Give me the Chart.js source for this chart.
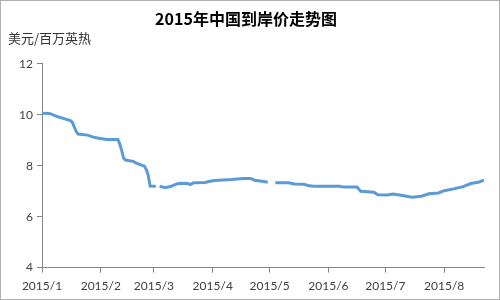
<!DOCTYPE html>
<html>
<head>
<meta charset="utf-8">
<script src="https://cdn.jsdelivr.net/npm/chart.js@4"></script>
<style>
  body { margin: 0; background: #fff; }
  #wrap { width: 500px; height: 300px; box-sizing: border-box; border: 1px solid #b0b0b0; }
</style>
</head>
<body>
<div id="wrap"><canvas id="canvas" width="498" height="298"></canvas></div>
<script>
// days counted from 2015/1/1, null = no quote that day (gap in the line)
let days = [0, 4, 8, 12, 15, 16, 18, 19, 24, 27, 30, 34, 40, 41, 42, 43, 44, 48, 50, 54, 55, 56, 57, 60,
            61, 62, 65, 68, 71, 73, 77, 78, 80, 86, 88, 91, 100, 106, 110, 112, 116, 119,
            121, 123, 130, 133, 138, 141, 143, 157, 159, 166, 168, 175, 177, 182, 185, 190, 195,
            200, 204, 209, 212, 217, 222, 226, 230, 233];
let prices = [10.06, 10.05, 9.93, 9.84, 9.77, 9.7, 9.35, 9.24, 9.2, 9.12, 9.08, 9.03, 9.03, 8.85, 8.6, 8.3, 8.22, 8.17, 8.09, 7.98, 7.85, 7.62, 7.2, 7.19,
              null, 7.19, 7.14, 7.19, 7.28, 7.31, 7.3, 7.26, 7.33, 7.34, 7.38, 7.42, 7.46, 7.5, 7.5, 7.43, 7.39, 7.35,
              null, 7.33, 7.33, 7.28, 7.27, 7.21, 7.19, 7.19, 7.16, 7.16, 7.0, 6.96, 6.86, 6.85, 6.89, 6.83, 6.76,
              6.80, 6.90, 6.93, 7.02, 7.09, 7.18, 7.30, 7.35, 7.43];

// month starts on the x axis
let monthDays = [0, 31, 59, 90, 120, 151, 181, 212];
let monthLabels = ['2015/1', '2015/2', '2015/3', '2015/4', '2015/5', '2015/6', '2015/7', '2015/8'];

let yTicks = [4, 6, 8, 10, 12];

let title = '2015年中国到岸价走势图';
let unit = '美元/百万英热';

let points = days.map((d, i) => ({ x: d, y: prices[i] }));

let axisColor = '#868686';
let tickFont = { family: 'Lato, "Liberation Sans", sans-serif', size: 12 };

let options = {
  type: 'line',
  data: {
    datasets: [{
      data: points,
      borderColor: '#5b9bd5',
      borderWidth: 3,
      pointRadius: 0,
      tension: 0,
      spanGaps: false
    }]
  },
  options: {
    responsive: false,
    animation: false,
    layout: { padding: { left: 7, right: 15, top: 0, bottom: 0 } },
    plugins: {
      legend: { display: false },
      tooltip: { enabled: false },
      title: {
        display: true,
        text: title,
        color: '#000',
        font: { family: '"Noto Sans CJK SC", sans-serif', size: 16, weight: 'bold' },
        padding: { top: 8, bottom: 2 }
      },
      subtitle: {
        display: true,
        text: unit,
        align: 'start',
        color: '#333',
        font: { family: '"Noto Sans CJK SC", sans-serif', size: 13 },
        padding: { top: 0, bottom: 18 }
      }
    },
    scales: {
      x: {
        type: 'linear',
        min: 0,
        max: 233,
        afterBuildTicks: (scale) => { scale.ticks = monthDays.map(v => ({ value: v })); },
        ticks: {
          color: '#404040',
          font: tickFont,
          maxRotation: 0,
          autoSkip: false,
          padding: 6,
          callback: (v) => monthLabels[monthDays.indexOf(v)]
        },
        grid: { drawOnChartArea: false, drawTicks: true, tickLength: 5, color: axisColor },
        border: { display: true, color: axisColor, width: 1 }
      },
      y: {
        min: 4,
        max: 12,
        afterBuildTicks: (scale) => { scale.ticks = yTicks.map(v => ({ value: v })); },
        afterFit: (scale) => { scale.width = 34; },
        ticks: { color: '#404040', font: tickFont, padding: 4 },
        grid: { drawOnChartArea: false, drawTicks: true, tickLength: 5, color: axisColor },
        border: { display: true, color: axisColor, width: 1 }
      }
    }
  }
};

let chart = new Chart(document.getElementById('canvas'), options);
</script>
</body>
</html>
